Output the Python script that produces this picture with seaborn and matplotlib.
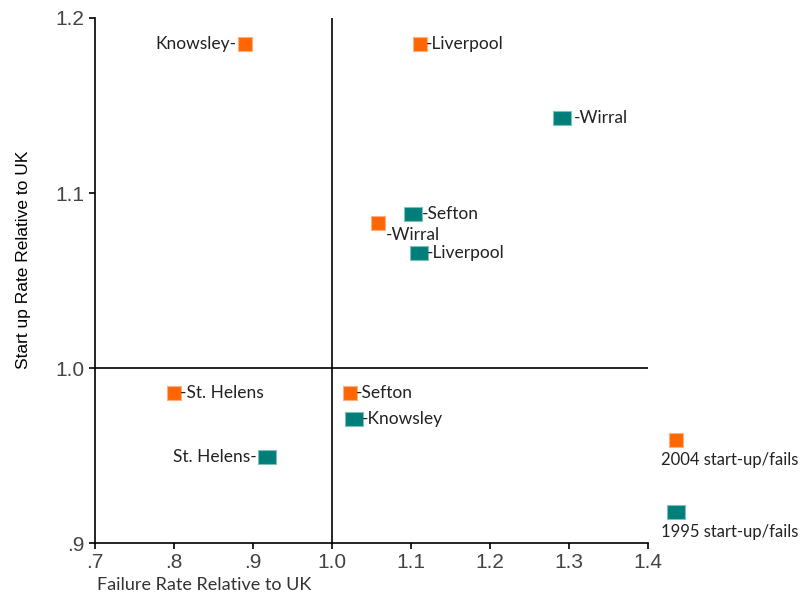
#Start-up vs failure rates relative to UK, Merseyside districts
import numpy as np
import pandas as pd
import seaborn as sns
import matplotlib.pyplot as plt

# data
districts = ['Knowsley', 'Liverpool', 'Wirral', 'St. Helens', 'Sefton']
fail_2004 = [0.890, 1.111, 1.058, 0.800, 1.023]
start_2004 = [1.185, 1.185, 1.083, 0.986, 0.986]
fail_1995 = [1.028, 1.110, 1.291, 0.918, 1.103]
start_1995 = [0.971, 1.066, 1.143, 0.949, 1.088]

# the key sits to the right of the plot area, drawn like the points
key_labels = ['2004 start-up/fails', '1995 start-up/fails']
key_x = [1.435, 1.435]
key_y = [0.959, 0.918]

x_ticks = [0.7, 0.8, 0.9, 1.0, 1.1, 1.2, 1.3, 1.4]
x_ticklabels = ['.7', '.8', '.9', '1.0', '1.1', '1.2', '1.3', '1.4']
y_ticks = [0.9, 1.0, 1.1, 1.2]
y_ticklabels = ['.9', '1.0', '1.1', '1.2']

df = pd.concat([
    pd.DataFrame({'district': districts, 'fail': fail_2004, 'start': start_2004, 'year': '2004'}),
    pd.DataFrame({'district': districts, 'fail': fail_1995, 'start': start_1995, 'year': '1995'}),
], ignore_index=True)

sns.set_style('white')
plt.rcParams['font.family'] = ['Lato', 'DejaVu Sans']

orange = '#ff6600'
teal = '#007f7a'
colors = {'2004': orange, '1995': teal}
edges = {'2004': '#ffb080', '1995': '#7fc0bd'}
wide_square = [(-0.62, -0.5), (0.62, -0.5), (0.62, 0.5), (-0.62, 0.5), (-0.62, -0.5)]
markers = {'2004': 's', '1995': wide_square}
sizes = {'2004': 95, '1995': 150}

# label placement: (dx, dy) in pixels and alignment
label_pos = {
    ('2004', 'Knowsley'): (-9, 0, 'right'),
    ('2004', 'Liverpool'): (6, 0, 'left'),
    ('2004', 'Wirral'): (8, -12, 'left'),
    ('2004', 'St. Helens'): (6, 0, 'left'),
    ('2004', 'Sefton'): (6, 0, 'left'),
    ('1995', 'Knowsley'): (8, 0, 'left'),
    ('1995', 'Liverpool'): (8, 0, 'left'),
    ('1995', 'Wirral'): (12, 0, 'left'),
    ('1995', 'St. Helens'): (-10, 0, 'right'),
    ('1995', 'Sefton'): (8, 0, 'left'),
}

fig = plt.figure(figsize=(8.07, 5.96), dpi=100)
ax = fig.add_axes([0.1177, 0.0889, 0.6853, 0.8809])

for year in ['2004', '1995']:
    sub = df[df['year'] == year]
    sns.scatterplot(data=sub, x='fail', y='start', ax=ax, color=colors[year],
                    marker=markers[year], s=sizes[year], edgecolor=edges[year],
                    linewidth=0.8, legend=False, zorder=3)
    for _, row in sub.iterrows():
        dx, dy, ha = label_pos[(year, row['district'])]
        txt = '-' + row['district'] if ha == 'left' else row['district'] + '-'
        ax.annotate(txt, (row['fail'], row['start']), xytext=(dx, dy),
                    textcoords='offset pixels', ha=ha, va='center',
                    fontsize=12.5, color='#222222')

# key markers and text
for i, year in enumerate(['2004', '1995']):
    ax.scatter(key_x[i], key_y[i], marker=markers[year], s=sizes[year],
               color=colors[year], edgecolor=edges[year], linewidth=0.8,
               clip_on=False, zorder=3)
    ax.annotate(key_labels[i], (key_x[i], key_y[i]), xytext=(-15, -20),
                textcoords='offset pixels', ha='left', va='center',
                fontsize=12, color='#222222', annotation_clip=False)

ax.set_xlim(0.7, 1.4)
ax.set_ylim(0.9, 1.2)
ax.axvline(1.0, color='black', linewidth=1.2, zorder=1)
ax.axhline(1.0, color='black', linewidth=1.2, zorder=1)

ax.set_xticks(x_ticks)
ax.set_xticklabels(x_ticklabels, family=['Liberation Sans', 'DejaVu Sans'])
ax.set_yticks(y_ticks)
ax.set_yticklabels(y_ticklabels, family=['Liberation Sans', 'DejaVu Sans'])
ax.tick_params(axis='both', direction='out', length=4, width=1.2, labelsize=15,
               labelcolor='#444444', color='black', bottom=True, left=True)
sns.despine(ax=ax)
for side in ['left', 'bottom']:
    ax.spines[side].set_color('black')
    ax.spines[side].set_linewidth(1.2)

ax.set_xlabel('Failure Rate Relative to UK', fontsize=13, color='#333333')
ax.xaxis.set_label_coords(0.003, -0.064)
ax.xaxis.label.set_ha('left')
ax.set_ylabel('Start up Rate Relative to UK', fontsize=12.5, color='black',
              family=['Liberation Sans', 'DejaVu Sans'])
ax.yaxis.set_label_coords(-0.115, 0.54)

plt.savefig('out.png', dpi=100)
